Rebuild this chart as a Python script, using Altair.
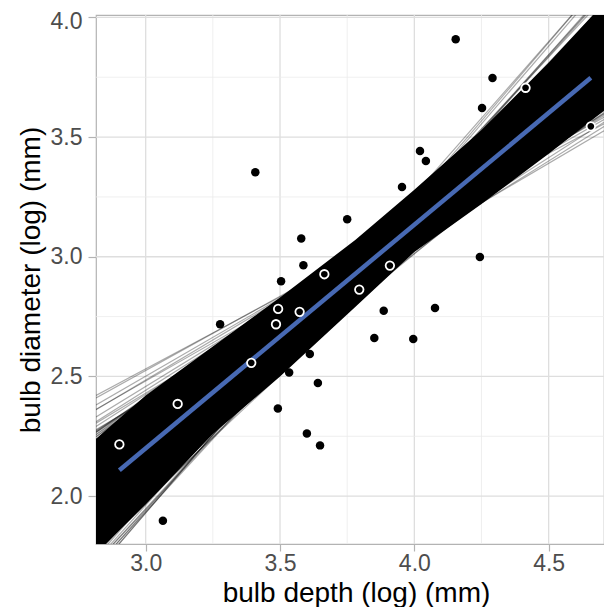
import altair as alt
import pandas as pd

# ---- data ----
black_x = [4.154, 4.291, 4.252, 4.021, 4.043, 3.954, 3.408, 3.750, 3.579, 3.587,
           3.504, 4.244, 3.277, 3.886, 4.077, 3.851, 3.996, 3.611, 3.534, 3.641,
           3.492, 3.600, 3.649, 3.064]
black_y = [3.909, 3.747, 3.621, 3.442, 3.400, 3.291, 3.353, 3.157, 3.076, 2.965,
           2.898, 2.999, 2.718, 2.774, 2.786, 2.661, 2.656, 2.594, 2.516, 2.473,
           2.366, 2.262, 2.212, 1.897]

white_x = [4.414, 3.909, 3.665, 3.795, 3.493, 3.573, 3.485, 3.393, 3.119, 2.902, 4.657]
white_y = [3.706, 2.963, 2.927, 2.863, 2.782, 2.770, 2.718, 2.557, 2.385, 2.216, 3.545]

# mean regression line
fit_intercept = -0.602
fit_slope = 0.934

# posterior draws (intercept, slope) visible at the fringe of the band
draw_intercept = [0.732, 0.665, 0.551, 0.475, 0.388, 0.312, 0.264, 0.188, 0.174, 0.250, 0.420,
                  0.072, 0.006, 0.127, -0.060, 0.145, 0.211, 0.304, 0.390, 0.561, 0.208, 0.047,
                  -1.788, -1.726, -1.861, -1.656, -1.970, -1.563, -2.000,
                  -1.417, -1.500, -1.712, -1.737, -1.429, -1.871, -1.566,
                  -0.523, -0.733, -0.163, -1.169, -0.004, -1.328, -1.254, -0.068,
                  -0.541, -0.668, -0.740, -0.506, -1.046, -0.342]
draw_slope = [0.60, 0.62, 0.65, 0.67, 0.69, 0.71, 0.72, 0.74, 0.72, 0.70, 0.66,
              0.78, 0.80, 0.76, 0.82, 0.75, 0.73, 0.70, 0.68, 0.64, 0.72, 0.76,
              1.25, 1.22, 1.28, 1.20, 1.30, 1.18, 1.31,
              1.15, 1.18, 1.22, 1.24, 1.14, 1.27, 1.20,
              0.94, 0.94, 0.85, 1.05, 0.80, 1.10, 1.12, 0.78,
              0.95, 0.92, 1.00, 0.88, 1.02, 0.90]

# dense core of the posterior band
band_x = [2.815, 3.0, 3.25, 3.5, 3.78, 4.0, 4.25, 4.5, 4.706]
band_lo = [1.76, 1.965, 2.26, 2.50, 2.79, 3.02, 3.22, 3.43, 3.61]
band_hi = [2.24, 2.42, 2.625, 2.83, 3.07, 3.28, 3.53, 3.81, 4.06]

x_major = [3.0, 3.5, 4.0, 4.5]
x_minor = [3.25, 3.75, 4.25]
y_major = [2.0, 2.5, 3.0, 3.5, 4.0]
y_minor = [2.25, 2.75, 3.25, 3.75]

x_domain = [2.815, 4.706]
y_domain = [1.8, 4.01]

# ---- tables ----
pts = pd.DataFrame({"x": black_x, "y": black_y})
wpts = pd.DataFrame({"x": white_x, "y": white_y})
band = pd.DataFrame({"x": band_x, "lo": band_lo, "hi": band_hi})

rows = []
for i, (a, b) in enumerate(zip(draw_intercept, draw_slope)):
    for xv in x_domain:
        rows.append({"draw": i, "x": xv, "y": a + b * xv})
draws = pd.DataFrame(rows)

all_x = black_x + white_x
xmin, xmax = min(all_x), max(all_x)
fit = pd.DataFrame({"x": [xmin, xmax],
                    "y": [fit_intercept + fit_slope * xmin, fit_intercept + fit_slope * xmax]})

FONT = "Liberation Sans"
xs = alt.Scale(domain=x_domain, nice=False, zero=False)
ys = alt.Scale(domain=y_domain, nice=False, zero=False)

x_axis = alt.Axis(values=x_major, format=".1f", grid=False, domain=False,
                  tickColor="#b3b3b3", tickSize=7, tickWidth=1.2,
                  labelFont=FONT, labelFontSize=23, labelColor="#4d4d4d", labelPadding=1,
                  title="bulb depth (log) (mm)", titleFont=FONT, titleFontSize=28,
                  titleFontWeight="normal", titleColor="black",
                  titleX=260, titleY=57, titleBaseline="alphabetic", titleAlign="center")
y_axis = alt.Axis(values=y_major, format=".1f", grid=False, domain=False,
                  tickColor="#b3b3b3", tickSize=8, tickWidth=1.2,
                  labelFont=FONT, labelFontSize=23, labelColor="#4d4d4d", labelPadding=6,
                  labelOffset={"condition": {"test": "datum.value >= 4", "value": 4}, "value": 0},
                  title="bulb diameter (log) (mm)", titleFont=FONT, titleFontSize=28,
                  titleFontWeight="normal", titleColor="black", titlePadding=5)

gx_min = alt.Chart(pd.DataFrame({"v": x_minor})).mark_rule(color="#ebebeb", strokeWidth=0.8).encode(
    x=alt.X("v:Q", scale=xs, axis=x_axis))
gx_maj = alt.Chart(pd.DataFrame({"v": x_major})).mark_rule(color="#dedede", strokeWidth=1.3).encode(
    x=alt.X("v:Q", scale=xs))
gy_min = alt.Chart(pd.DataFrame({"v": y_minor})).mark_rule(color="#ebebeb", strokeWidth=0.8).encode(
    y=alt.Y("v:Q", scale=ys, axis=y_axis))
gy_maj = alt.Chart(pd.DataFrame({"v": y_major})).mark_rule(color="#dedede", strokeWidth=1.3).encode(
    y=alt.Y("v:Q", scale=ys))

core = alt.Chart(band).mark_area(color="black", clip=True).encode(
    x=alt.X("x:Q", scale=xs), y=alt.Y("lo:Q", scale=ys), y2="hi:Q")

lines = alt.Chart(draws).mark_line(color="black", opacity=0.33, strokeWidth=1.2, clip=True).encode(
    x=alt.X("x:Q", scale=xs), y=alt.Y("y:Q", scale=ys), detail="draw:N")

blue = alt.Chart(fit).mark_line(color="#4769b3", strokeWidth=4.5, strokeCap="butt").encode(
    x=alt.X("x:Q", scale=xs), y=alt.Y("y:Q", scale=ys))

bpts = alt.Chart(pts).mark_circle(color="black", opacity=1, size=72).encode(
    x=alt.X("x:Q", scale=xs), y=alt.Y("y:Q", scale=ys))
wp = alt.Chart(wpts).mark_point(shape="circle", filled=True, fill="black", stroke="white",
                                strokeWidth=1.8, opacity=1, size=72).encode(
    x=alt.X("x:Q", scale=xs), y=alt.Y("y:Q", scale=ys))

chart = alt.layer(gx_min, gx_maj, gy_min, gy_maj, core, lines, blue, bpts, wp).properties(
    width=508, height=529,
    autosize=alt.AutoSizeParams(type="none"),
    padding={"left": 88, "top": 7, "right": 0, "bottom": 63},
).configure_view(stroke="#b3b3b3", strokeWidth=1.2)

chart.save("out.html", embed_options={"renderer": "svg", "actions": False})
